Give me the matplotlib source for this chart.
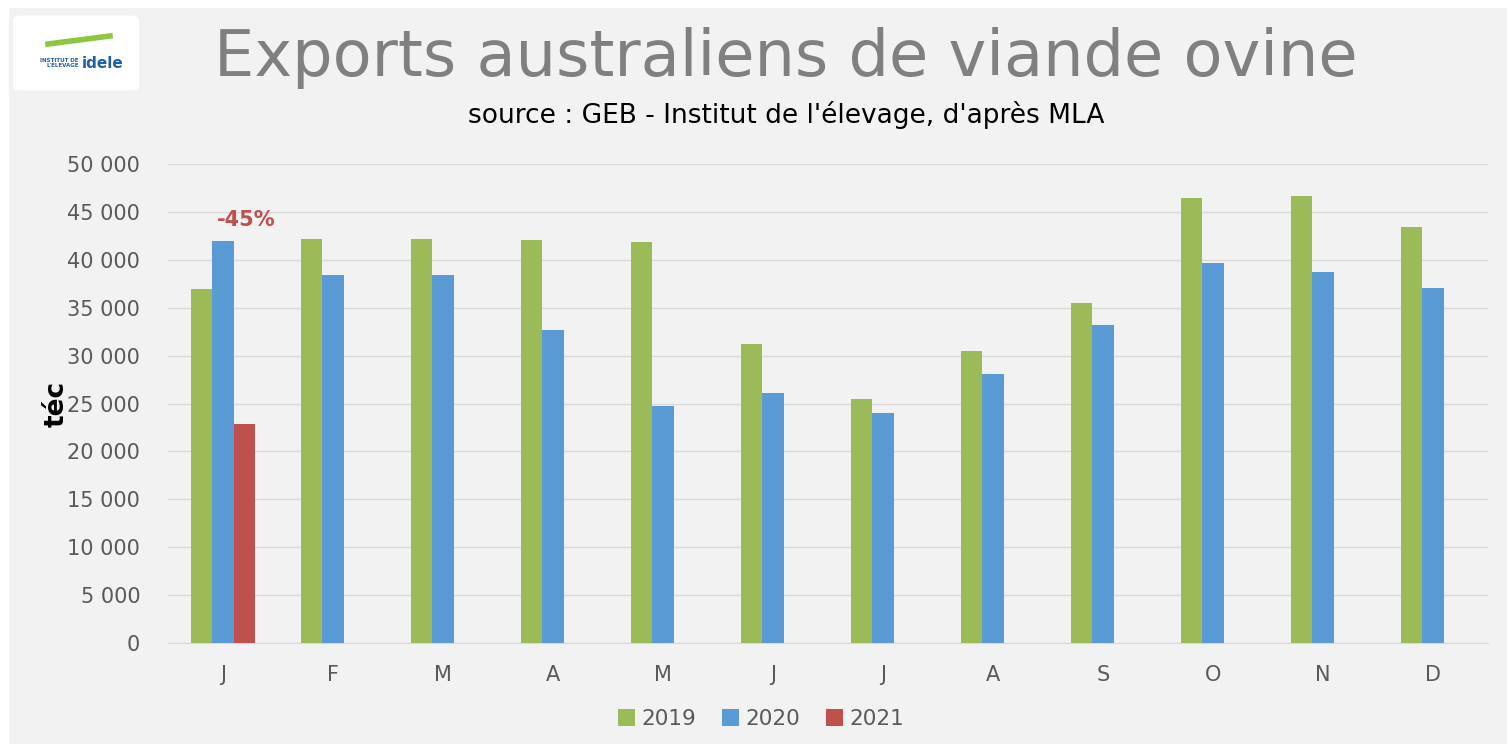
import matplotlib.pyplot as plt
import numpy as np
from matplotlib.patches import FancyBboxPatch

# Données
mois = ['J', 'F', 'M', 'A', 'M', 'J', 'J', 'A', 'S', 'O', 'N', 'D']
v2019 = [37000, 42200, 42200, 42100, 41900, 31200, 25500, 30500, 35500, 46500, 46700, 43400]
v2020 = [42000, 38400, 38400, 32700, 24700, 26100, 24000, 28100, 33200, 39700, 38700, 37100]
v2021 = [22900]
yticks = [0, 5000, 10000, 15000, 20000, 25000, 30000, 35000, 40000, 45000, 50000]

plt.rcParams['font.family'] = ['DejaVu Sans']

fig = plt.figure(figsize=(15.07, 7.44), dpi=100)
fig.patch.set_facecolor('white')

# fond gris du panneau
bg = fig.add_axes([9 / 1507, 0, 1 - 9 / 1507, 1 - 8 / 744], zorder=-5)
bg.set_facecolor('#F2F2F2')
bg.set_xticks([])
bg.set_yticks([])
for s in bg.spines.values():
    s.set_visible(False)

ax = fig.add_axes([168 / 1507, 1 - 643 / 744, 1320 / 1507, 479 / 744])
ax.set_facecolor('none')

x = np.arange(len(mois))
w = 0.194
ax.bar(x - w, v2019, w, color='#9BBB59', label='2019', zorder=3)
ax.bar(x, v2020, w, color='#5B9BD5', label='2020', zorder=3)
ax.bar(x[:len(v2021)] + w, v2021, w, color='#C0504D', label='2021', zorder=3)

ax.set_xlim(-0.5, 11.5)
ax.set_ylim(0, 50000)
ax.set_yticks(yticks)
ax.set_yticklabels(['{:,}'.format(t).replace(',', ' ') for t in yticks])
ax.set_xticks(x)
ax.set_xticklabels(mois)
ax.tick_params(axis='both', length=0, labelsize=15, colors='#595959')
ax.tick_params(axis='x', pad=16)
ax.tick_params(axis='y', pad=20)
ax.grid(axis='y', color='#D9D9D9', linewidth=1, zorder=0)
for s in ['top', 'right', 'left']:
    ax.spines[s].set_visible(False)
ax.spines['bottom'].set_color('#D9D9D9')

ax.set_ylabel('téc', fontsize=19, fontweight='bold', color='black', labelpad=-2)

# annotation
ax.text(0.21, 44200, '-45%', color='#C0504D', fontsize=15, fontweight='bold',
        ha='center', va='center')

# titres
fig.text(786 / 1507, 1 - 58 / 744, 'Exports australiens de viande ovine',
         fontsize=46, color='#808080', ha='center', va='center')
fig.text(786 / 1507, 1 - 115 / 744, "source : GEB - Institut de l'élevage, d'après MLA",
         fontsize=19, color='black', ha='center', va='center')

# légende
fig.legend(*ax.get_legend_handles_labels(), loc='center', bbox_to_anchor=(761 / 1507, 1 - 719 / 744),
           ncol=3, frameon=False, fontsize=15.5, labelcolor='#595959',
           handlelength=0.8, handleheight=0.8, handletextpad=0.3, columnspacing=1.2)

# logo
logo = FancyBboxPatch((22 / 1507, 1 - 86 / 744), 108 / 1507, 66 / 744,
                      boxstyle='round,pad=0.006', transform=fig.transFigure,
                      facecolor='white', edgecolor='none')
fig.patches.append(logo)
fig.text(82 / 1507, 1 - 63 / 744, 'idele', fontsize=11, fontweight='bold',
         color='#1F5FA8', ha='left', va='center')
fig.text(79 / 1507, 1 - 63 / 744, "INSTITUT DE\nL'ÉLEVAGE", fontsize=4, fontweight='bold',
         color='#1F5FA8', ha='right', va='center', linespacing=1)
fig.lines.append(plt.Line2D([48 / 1507, 110 / 1507], [1 - 44 / 744, 1 - 36 / 744],
                            transform=fig.transFigure, color='#8DC63F', linewidth=4))

fig.savefig('out.png', dpi=100, facecolor=fig.get_facecolor())
